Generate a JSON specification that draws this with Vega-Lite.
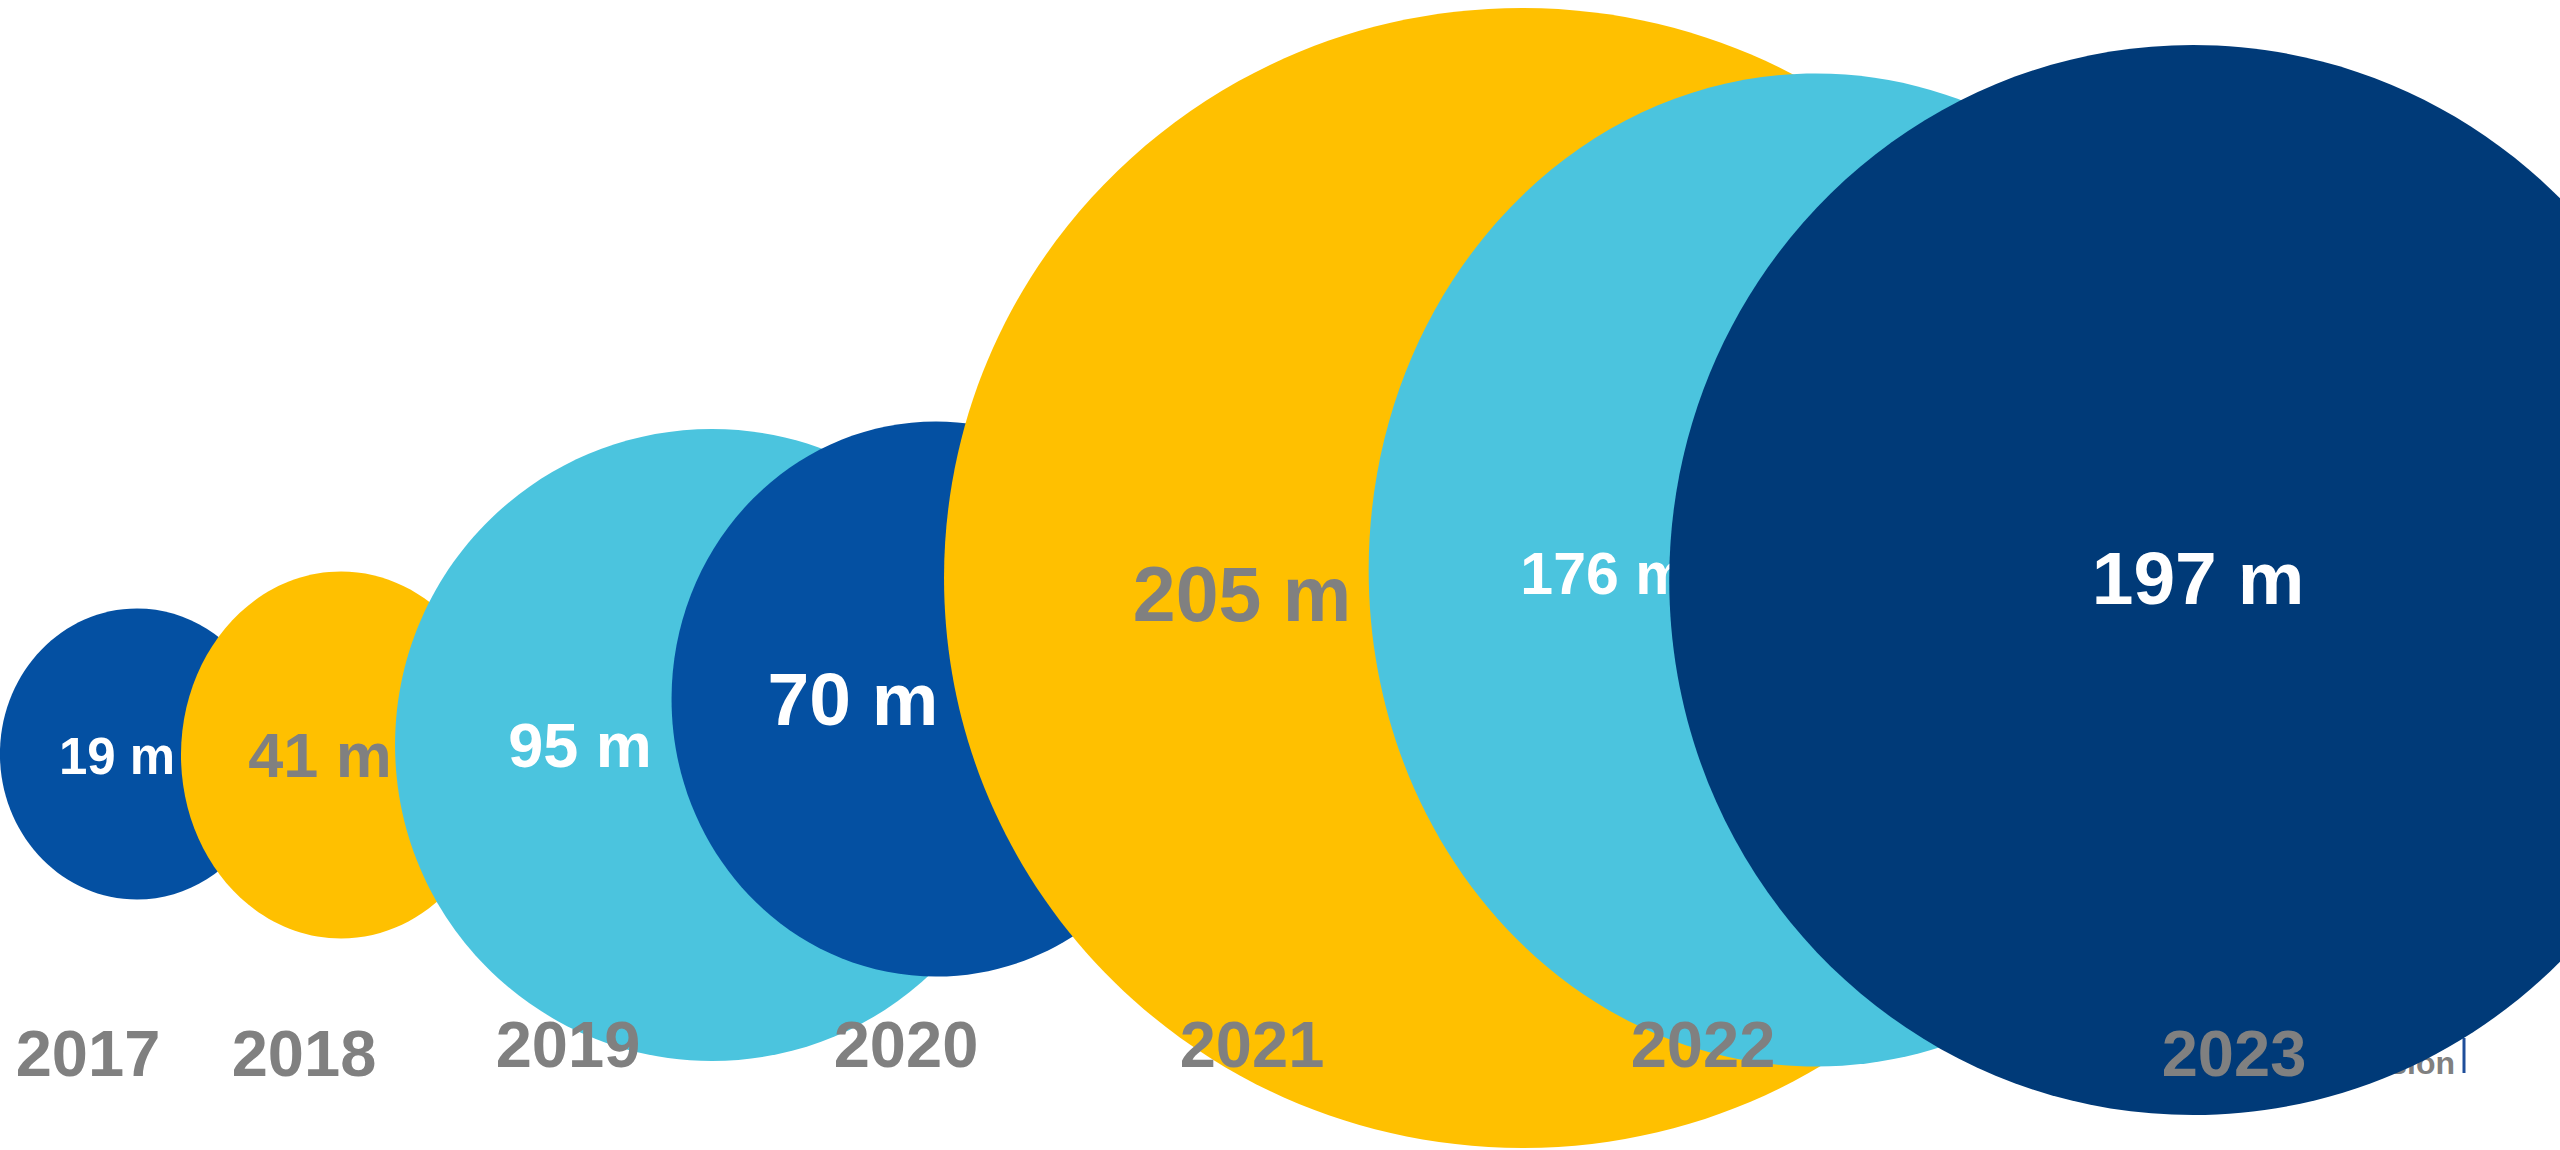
{
  "$schema": "https://vega.github.io/schema/vega-lite/v6.json",
  "width": 2560,
  "height": 1150,
  "autosize": {"type": "none"},
  "padding": 0,
  "background": "white",
  "config": {"view": {"stroke": null}, "axis": {"domain": false}},
  "datasets": {
    "bubbles": [
      {"year": 2017, "value": 19, "label": "19 m", "x": 137, "y": 754, "lx": 117, "ly": 759, "tx": 88, "ty": 1056},
      {"year": 2018, "value": 41, "label": "41 m", "x": 341, "y": 755, "lx": 320, "ly": 758, "tx": 304, "ty": 1056},
      {"year": 2019, "value": 95, "label": "95 m", "x": 712, "y": 745, "lx": 580, "ly": 748, "tx": 568, "ty": 1047},
      {"year": 2020, "value": 70, "label": "70 m", "x": 936, "y": 699, "lx": 853, "ly": 702, "tx": 906, "ty": 1047},
      {"year": 2021, "value": 205, "label": "205 m", "x": 1522, "y": 578, "lx": 1242, "ly": 598, "tx": 1252, "ty": 1047},
      {"year": 2022, "value": 176, "label": "176 m", "x": 1816, "y": 570, "lx": 1604, "ly": 576, "tx": 1703, "ty": 1047},
      {"year": 2023, "value": 197, "label": "197 m", "x": 2193, "y": 580, "lx": 2198, "ly": 581, "tx": 2234, "ty": 1056}
    ],
    "logo": [
      {"t": "ssion", "x": 2455, "y": 1064, "y2": 1038, "y3": 1073, "rx": 2464}
    ]
  },
  "layer": [
    {
      "data": {"name": "logo"},
      "mark": {"type": "text", "align": "right", "baseline": "middle", "font": "Liberation Sans", "fontWeight": "bold", "fontSize": 32, "color": "#808080"},
      "encoding": {
        "x": {"field": "x", "type": "quantitative", "scale": {"domain": [0, 2560], "nice": false, "zero": false}, "axis": null},
        "y": {"field": "y", "type": "quantitative", "scale": {"domain": [0, 1150], "nice": false, "zero": false, "reverse": true}, "axis": null},
        "text": {"field": "t"}
      }
    },
    {
      "data": {"name": "logo"},
      "mark": {"type": "rule", "color": "#1F4E9A", "strokeWidth": 3},
      "encoding": {
        "x": {"field": "rx", "type": "quantitative", "scale": {"domain": [0, 2560], "nice": false, "zero": false}, "axis": null},
        "y": {"field": "y2", "type": "quantitative", "scale": {"domain": [0, 1150], "nice": false, "zero": false, "reverse": true}, "axis": null},
        "y2": {"field": "y3"}
      }
    },
    {
      "data": {"name": "bubbles"},
      "transform": [{"filter": "datum.year <= 2022"}],
      "mark": {"type": "point", "filled": true, "opacity": 1, "strokeWidth": 0, "clip": true},
      "encoding": {
        "x": {"field": "x", "type": "quantitative", "scale": {"domain": [0, 2560], "nice": false, "zero": false}, "axis": null},
        "y": {"field": "y", "type": "quantitative", "scale": {"domain": [0, 1150], "nice": false, "zero": false, "reverse": true}, "axis": null},
        "size": {"field": "value", "type": "quantitative", "legend": null,
          "scale": {"type": "linear", "zero": false, "nice": false, "domain": [19, 41, 70, 95, 176, 197, 205], "range": [84681, 134689, 308025, 399424, 986049, 1144900, 1299600]}},
        "color": {"field": "year", "type": "nominal", "legend": null,
          "scale": {"domain": [2017, 2018, 2019, 2020, 2021, 2022, 2023], "range": ["#0450A2", "#FFC000", "#4BC4DE", "#0450A2", "#FFC000", "#4BC4DE", "#003A78"]}},
        "shape": {"field": "year", "type": "nominal", "legend": null,
          "scale": {"domain": [2017, 2018, 2019, 2020, 2021, 2022, 2023], "range": [
            "M0.942,0C0.942,0.5523,0.5203,1,0,1C-0.5203,1,-0.942,0.5523,-0.942,0C-0.942,-0.5523,-0.5203,-1,0,-1C0.5203,-1,0.942,-0.5523,0.942,0Z",
            "M0.872,0C0.872,0.5523,0.4816,1,0,1C-0.4816,1,-0.872,0.5523,-0.872,0C-0.872,-0.5523,-0.4816,-1,0,-1C0.4816,-1,0.872,-0.5523,0.872,0Z",
            "M1.003,0C1.003,0.5523,0.554,1,0,1C-0.554,1,-1.003,0.5523,-1.003,0C-1.003,-0.5523,-0.554,-1,0,-1C0.554,-1,1.003,-0.5523,1.003,0Z",
            "M0.953,0C0.953,0.5523,0.5263,1,0,1C-0.5263,1,-0.953,0.5523,-0.953,0C-0.953,-0.5523,-0.5263,-1,0,-1C0.5263,-1,0.953,-0.5523,0.953,0Z",
            "M1.014,0C1.014,0.5523,0.56,1,0,1C-0.56,1,-1.014,0.5523,-1.014,0C-1.014,-0.5523,-0.56,-1,0,-1C0.56,-1,1.014,-0.5523,1.014,0Z",
            "M0.901,0C0.901,0.5523,0.4976,1,0,1C-0.4976,1,-0.901,0.5523,-0.901,0C-0.901,-0.5523,-0.4976,-1,0,-1C0.4976,-1,0.901,-0.5523,0.901,0Z",
            "M0.979,0C0.979,0.5523,0.5407,1,0,1C-0.5407,1,-0.979,0.5523,-0.979,0C-0.979,-0.5523,-0.5407,-1,0,-1C0.5407,-1,0.979,-0.5523,0.979,0Z"
          ]}}
      }
    },
    {
      "data": {"name": "bubbles"},
      "transform": [{"filter": "datum.year <= 2022"}],
      "mark": {"type": "text", "align": "center", "baseline": "middle", "font": "Liberation Sans", "fontWeight": "bold"},
      "encoding": {
        "x": {"field": "lx", "type": "quantitative", "scale": {"domain": [0, 2560], "nice": false, "zero": false}, "axis": null},
        "y": {"field": "ly", "type": "quantitative", "scale": {"domain": [0, 1150], "nice": false, "zero": false, "reverse": true}, "axis": null},
        "text": {"field": "label"},
        "size": {"field": "year", "type": "nominal", "legend": null,
          "scale": {"type": "ordinal", "domain": [2017, 2018, 2019, 2020, 2021, 2022, 2023], "range": [51, 63, 63, 75, 77, 59, 75]}},
        "color": {"condition": {"test": "datum.year == 2018 || datum.year == 2021", "value": "#808080"}, "value": "#FFFFFF"}
      }
    },
    {
      "data": {"name": "bubbles"},
      "transform": [{"filter": "datum.year == 2023"}],
      "mark": {"type": "point", "filled": true, "opacity": 1, "strokeWidth": 0, "clip": true},
      "encoding": {
        "x": {"field": "x", "type": "quantitative", "scale": {"domain": [0, 2560], "nice": false, "zero": false}, "axis": null},
        "y": {"field": "y", "type": "quantitative", "scale": {"domain": [0, 1150], "nice": false, "zero": false, "reverse": true}, "axis": null},
        "size": {"field": "value", "type": "quantitative", "legend": null,
          "scale": {"type": "linear", "zero": false, "nice": false, "domain": [19, 41, 70, 95, 176, 197, 205], "range": [84681, 134689, 308025, 399424, 986049, 1144900, 1299600]}},
        "color": {"field": "year", "type": "nominal", "legend": null,
          "scale": {"domain": [2017, 2018, 2019, 2020, 2021, 2022, 2023], "range": ["#0450A2", "#FFC000", "#4BC4DE", "#0450A2", "#FFC000", "#4BC4DE", "#003A78"]}},
        "shape": {"field": "year", "type": "nominal", "legend": null,
          "scale": {"domain": [2017, 2018, 2019, 2020, 2021, 2022, 2023], "range": [
            "M0.942,0C0.942,0.5523,0.5203,1,0,1C-0.5203,1,-0.942,0.5523,-0.942,0C-0.942,-0.5523,-0.5203,-1,0,-1C0.5203,-1,0.942,-0.5523,0.942,0Z",
            "M0.872,0C0.872,0.5523,0.4816,1,0,1C-0.4816,1,-0.872,0.5523,-0.872,0C-0.872,-0.5523,-0.4816,-1,0,-1C0.4816,-1,0.872,-0.5523,0.872,0Z",
            "M1.003,0C1.003,0.5523,0.554,1,0,1C-0.554,1,-1.003,0.5523,-1.003,0C-1.003,-0.5523,-0.554,-1,0,-1C0.554,-1,1.003,-0.5523,1.003,0Z",
            "M0.953,0C0.953,0.5523,0.5263,1,0,1C-0.5263,1,-0.953,0.5523,-0.953,0C-0.953,-0.5523,-0.5263,-1,0,-1C0.5263,-1,0.953,-0.5523,0.953,0Z",
            "M1.014,0C1.014,0.5523,0.56,1,0,1C-0.56,1,-1.014,0.5523,-1.014,0C-1.014,-0.5523,-0.56,-1,0,-1C0.56,-1,1.014,-0.5523,1.014,0Z",
            "M0.901,0C0.901,0.5523,0.4976,1,0,1C-0.4976,1,-0.901,0.5523,-0.901,0C-0.901,-0.5523,-0.4976,-1,0,-1C0.4976,-1,0.901,-0.5523,0.901,0Z",
            "M0.979,0C0.979,0.5523,0.5407,1,0,1C-0.5407,1,-0.979,0.5523,-0.979,0C-0.979,-0.5523,-0.5407,-1,0,-1C0.5407,-1,0.979,-0.5523,0.979,0Z"
          ]}}
      }
    },
    {
      "data": {"name": "bubbles"},
      "transform": [{"filter": "datum.year == 2023"}],
      "mark": {"type": "text", "align": "center", "baseline": "middle", "font": "Liberation Sans", "fontWeight": "bold", "color": "#FFFFFF"},
      "encoding": {
        "x": {"field": "lx", "type": "quantitative", "scale": {"domain": [0, 2560], "nice": false, "zero": false}, "axis": null},
        "y": {"field": "ly", "type": "quantitative", "scale": {"domain": [0, 1150], "nice": false, "zero": false, "reverse": true}, "axis": null},
        "text": {"field": "label"},
        "size": {"field": "year", "type": "nominal", "legend": null,
          "scale": {"type": "ordinal", "domain": [2017, 2018, 2019, 2020, 2021, 2022, 2023], "range": [51, 63, 63, 75, 77, 59, 75]}}
      }
    },
    {
      "data": {"name": "bubbles"},
      "mark": {"type": "text", "align": "center", "baseline": "middle", "font": "Liberation Sans", "fontWeight": "bold", "fontSize": 65, "color": "#808080"},
      "encoding": {
        "x": {"field": "tx", "type": "quantitative", "scale": {"domain": [0, 2560], "nice": false, "zero": false}, "axis": null},
        "y": {"field": "ty", "type": "quantitative", "scale": {"domain": [0, 1150], "nice": false, "zero": false, "reverse": true}, "axis": null},
        "text": {"field": "year", "type": "nominal"}
      }
    }
  ]
}
